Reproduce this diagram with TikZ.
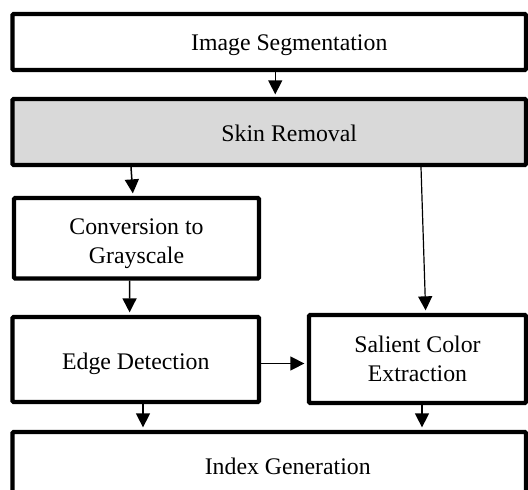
\documentclass[tikz,border=0pt]{standalone}
\usepackage{fontspec}
\setmainfont{Liberation Serif}
\usetikzlibrary{arrows.meta}
\definecolor{boxgray}{HTML}{D9D9D9}
\newcommand{\lowertext}[2]{\raisebox{-#1}[\height][\depth]{#2}}
\tikzset{
  box/.style={draw=black, line width=4.3pt, rounded corners=1.2pt, inner sep=0pt,
    align=center, font=\fontsize{23.8}{29}\selectfont},
  arr/.style={draw=black, line width=1.5pt, shorten >=2.5pt,
    -{Triangle[length=14pt,width=14pt]}},
  thinarr/.style={arr, line width=1.2pt}
}
\begin{document}
\begin{tikzpicture}[x=1pt,y=-1pt]
\useasboundingbox (0,0) rectangle (528,490);
\fill[white] (0,0) rectangle (528,490);
\node[box, fill=white, minimum width=513.5pt, minimum height=56pt] (imgseg) at (269.25,42) {\hspace*{40pt}\lowertext{3pt}{Image Segmentation}};
\node[box, fill=boxgray, minimum width=513.5pt, minimum height=66pt] (skin) at (269.25,132) {\hspace*{40pt}\lowertext{1pt}{Skin Removal}};
\node[box, fill=white, minimum width=245pt, minimum height=80.5pt] (conv) at (136.5,238.25) {\lowertext{4.5pt}{\begin{tabular}{@{}c@{}}Conversion to\\Grayscale\end{tabular}}};
\node[box, fill=white, minimum width=246.5pt, minimum height=85pt] (edge) at (135.75,359.5) {\lowertext{4pt}{Edge Detection}};
\node[box, fill=white, minimum width=217pt, minimum height=88pt] (sal) at (417.5,359) {Salient Color\\Extraction};
\node[box, fill=white, minimum width=513.5pt, minimum height=68pt] (index) at (269.25,466) {\hspace*{37pt}Index Generation};
\draw[arr] ([xshift=6pt]imgseg.south) -- ([xshift=6pt]skin.north);
\draw[arr] ([xshift=-138.25pt]skin.south) -- ([xshift=-3.5pt]conv.north);
\draw[arr] ([xshift=-7pt]conv.south) -- ([xshift=-6.15pt]edge.north);
\draw[arr] ([yshift=-4pt]edge.east) -- ([yshift=-4pt]edge.east -| sal.west);
\draw[thinarr] ([xshift=151.75pt]skin.south) -- ([xshift=8.2pt]sal.north);
\draw[arr] ([xshift=7.25pt]edge.south) -- ([xshift=7.25pt]edge.south |- index.north);
\draw[arr] ([xshift=4.5pt]sal.south) -- ([xshift=4.5pt]sal.south |- index.north);
\end{tikzpicture}
\end{document}
